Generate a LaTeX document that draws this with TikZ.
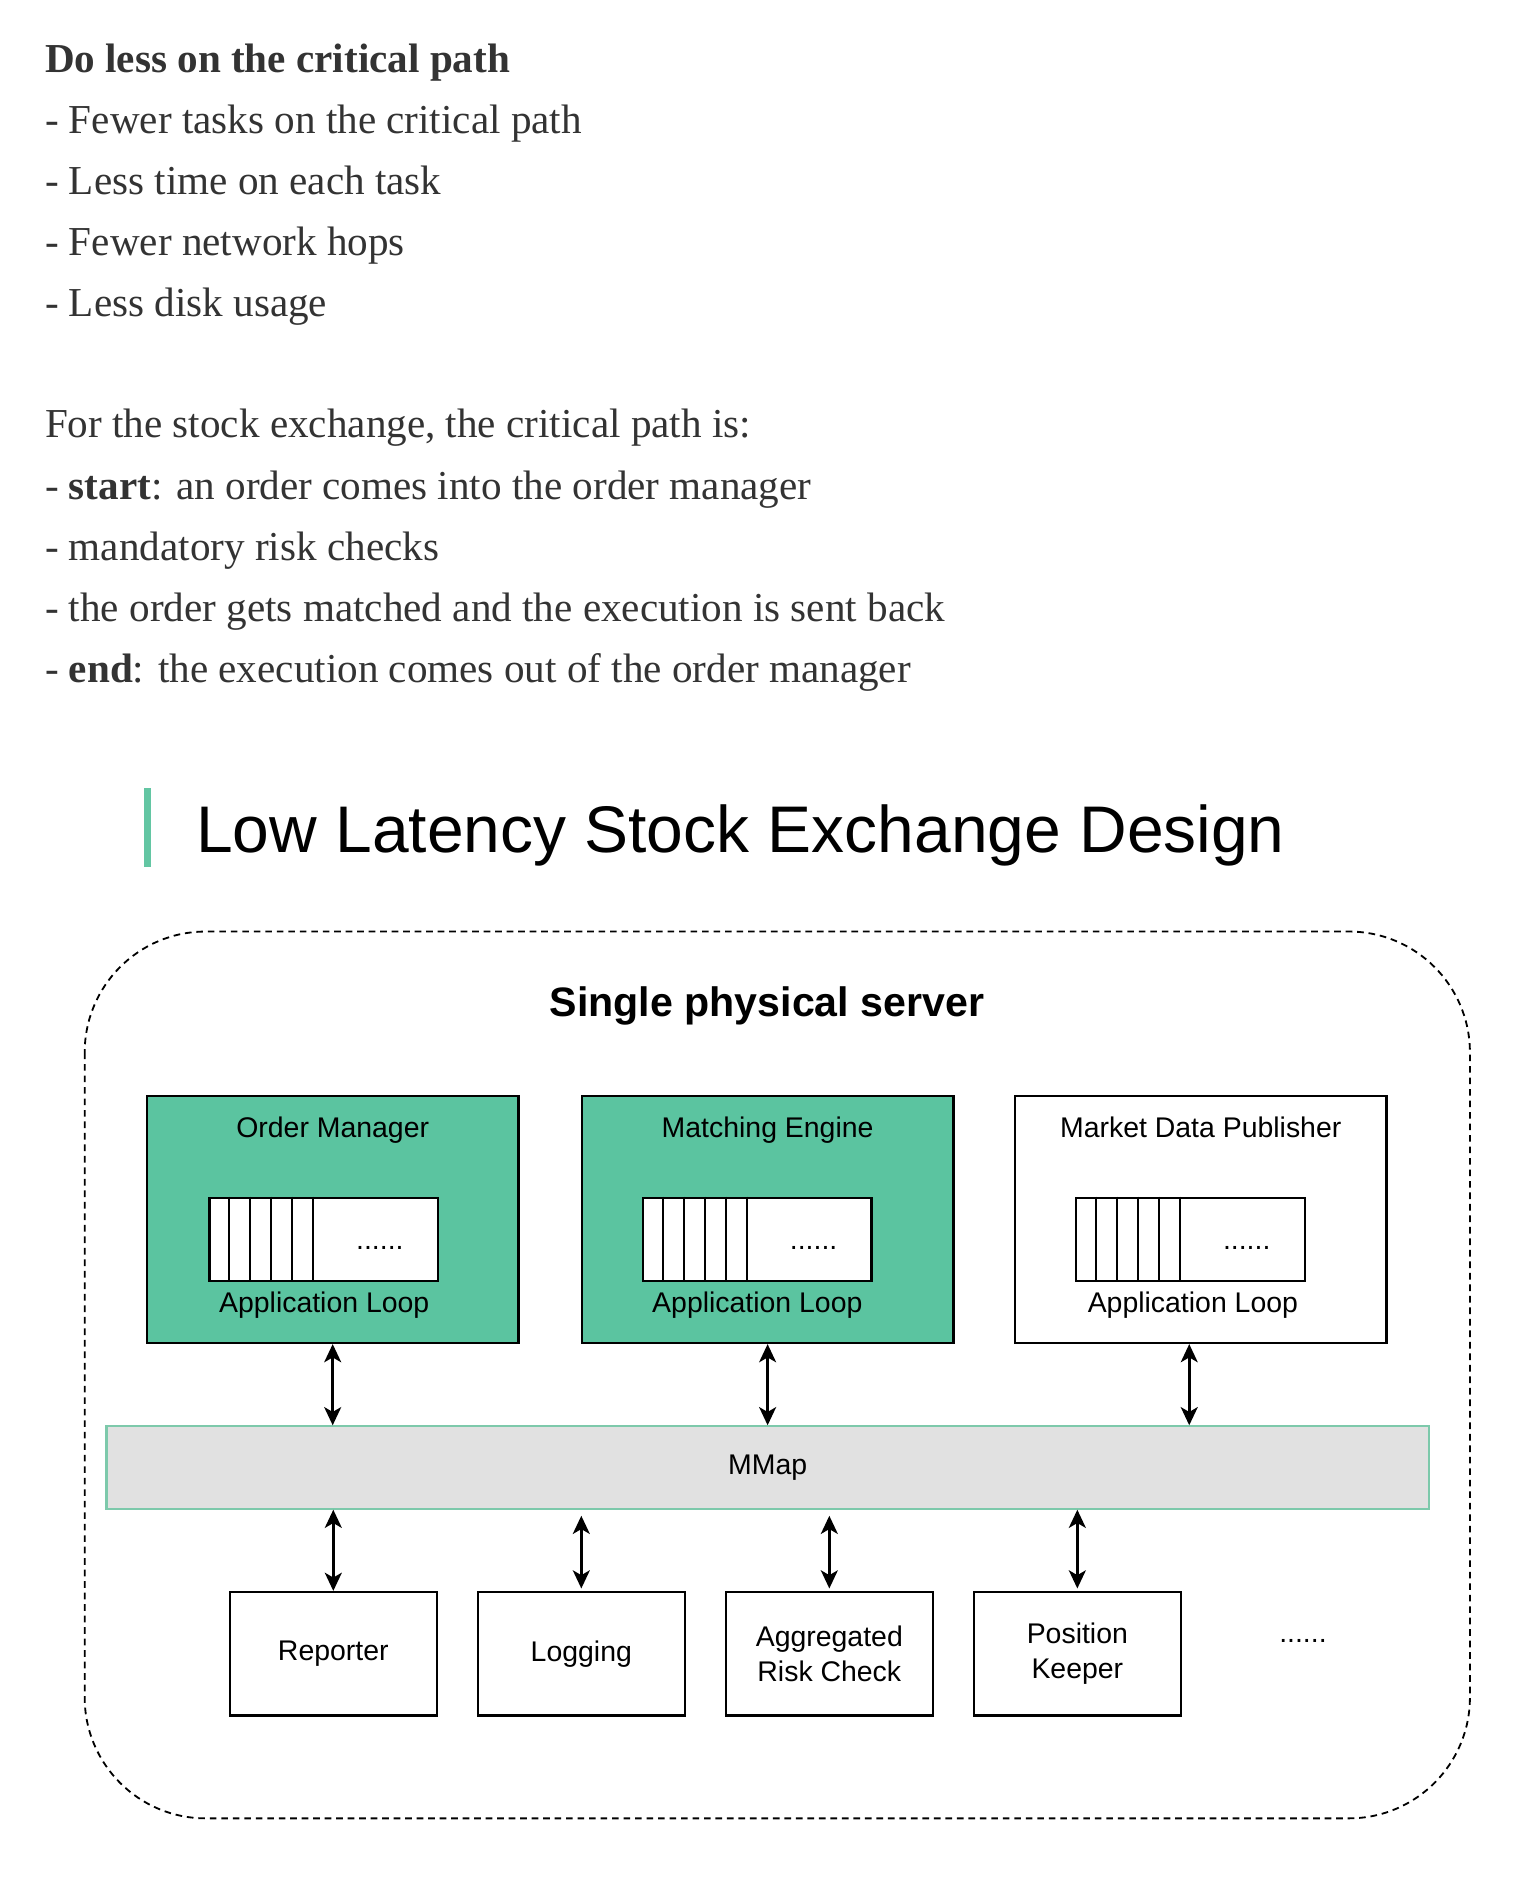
\documentclass[tikz,border=0pt]{standalone}
\usepackage{fontspec}
\setmainfont{Liberation Serif}
\newfontfamily\hv{Liberation Sans}
\usetikzlibrary{arrows.meta}
\definecolor{bodytxt}{HTML}{333333}
\definecolor{mgreen}{HTML}{5BC4A0}
\definecolor{barg}{HTML}{63C6A3}
\definecolor{mmapfill}{HTML}{E1E1E1}
\definecolor{mmapline}{HTML}{7DC9AB}
\begin{document}
\begin{tikzpicture}[x=1pt,y=-1pt,
  bodyline/.style={anchor=base west, inner sep=0pt, text=bodytxt, font=\fontsize{34}{40}\selectfont},
  compbox/.style={draw=black, line width=2pt, minimum width=307pt, minimum height=204pt, inner sep=0pt},
  greenbox/.style={compbox, fill=mgreen},
  whitebox/.style={compbox, fill=white},
  queuebox/.style={draw=black, line width=2pt, fill=white, minimum width=189pt, minimum height=69pt, inner sep=0pt},
  sanslabel/.style={anchor=base, inner sep=0pt, font=\hv\fontsize{23.5}{29}\selectfont},
  looplabel/.style={anchor=base, inner sep=0pt, font=\hv\fontsize{23.5}{29}\selectfont},
  smallbox/.style={draw=black, line width=2pt, fill=white, minimum width=171pt, minimum height=102pt, inner sep=0pt, align=center, font=\hv\fontsize{23.5}{29}\selectfont},
  biarrow/.style={line width=2.2pt, {Stealth[length=15pt,width=14pt,inset=4pt]}-{Stealth[length=15pt,width=14pt,inset=4pt]}},
]
\useasboundingbox[fill=white] (0,0) rectangle (1253.3,1567.2);

% ---- body text ----
\node[bodyline] (l1) at (37,60) {\bfseries Do less on the critical path};
\node[bodyline] (l2) at (37,110.5) {- Fewer tasks on the critical path};
\node[bodyline] (l3) at (37,161) {- Less time on each task};
\node[bodyline] (l4) at (37,211.5) {- Fewer network hops};
\node[bodyline] (l5) at (37,262) {- Less disk usage};
\node[bodyline] (l6) at (37,362) {For the stock exchange, the critical path is:};
\node[bodyline] (l7) at (37,412.5) {- \textbf{start}: an order comes into the order manager};
\node[bodyline] (l8) at (37,463) {- mandatory risk checks};
\node[bodyline] (l9) at (37,513.5) {- the order gets matched and the execution is sent back};
\node[bodyline] (l10) at (37,564) {- \textbf{end}: the execution comes out of the order manager};

% ---- heading ----
\fill[barg] (119,651) rectangle (124.5,717);
\node[anchor=base west, inner sep=0pt, font=\hv\fontsize{54.5}{60}\selectfont] (title) at (162,705) {Low Latency Stock Exchange Design};

% ---- server outline ----
\draw[line width=1.5pt, dash pattern=on 5.5pt off 4pt, rounded corners=100pt] (70,770) rectangle (1215,1503);
\node[anchor=base, inner sep=0pt, font=\hv\bfseries\fontsize{34}{40}\selectfont] (server) at (634,840) {Single physical server};

% ---- top components ----
\node[greenbox] (om) at (275,1008) {};
\node[greenbox] (me) at (634.5,1008) {};
\node[whitebox] (mdp) at (992.5,1008) {};

\node[sanslabel] (omt) at (275,940) {Order Manager};
\node[sanslabel] (met) at (634.5,940) {Matching Engine};
\node[sanslabel] (mdpt) at (992.5,940) {Market Data Publisher};

\foreach \nm/\cx in {omq/267.5, meq/626, mdpq/984}{
  \node[queuebox] (\nm) at (\cx,1024.5) {};
  \foreach \k in {1,...,5}{
    \draw[line width=1.8pt] ([xshift=17.4*\k pt]\nm.north west) -- ([xshift=17.4*\k pt]\nm.south west);
  }
  \node[anchor=base, inner sep=0pt, font=\hv\fontsize{23.5}{29}\selectfont] (\nm d) at ([xshift=142pt]\nm.west |- 0,1033) {......};
}
\node[looplabel] (oml) at (268,1085) {Application Loop};
\node[looplabel] (mel) at (626,1085) {Application Loop};
\node[looplabel] (mdpl) at (986,1085) {Application Loop};

% ---- MMap ----
\node[draw=mmapline, line width=1.8pt, fill=mmapfill, minimum width=1093pt, minimum height=68pt, inner sep=0pt, font=\hv\fontsize{23.5}{29}\selectfont] (mmap) at (634.5,1213) {MMap};

% ---- bottom components ----
\node[smallbox] (rep) at (275.5,1367) {Reporter};
\node[smallbox] (log) at (480.5,1367) {Logging};
\node[smallbox] (arc) at (685.5,1367) {Aggregated\\Risk Check};
\node[smallbox] (pk) at (890.5,1367) {Position\\Keeper};
\node[anchor=base, inner sep=0pt, font=\hv\fontsize{23.5}{29}\selectfont] (more) at (1077,1358) {......};

% ---- connectors ----
\draw[biarrow] (om.south) -- (om.south |- mmap.north);
\draw[biarrow] (me.south) -- (me.south |- mmap.north);
\coordinate (mdpa) at ([xshift=-9.5pt]mdp.south);
\draw[biarrow] (mdpa) -- (mdpa |- mmap.north);

\draw[biarrow] (rep.north) -- (rep.north |- mmap.south);
\draw[biarrow, shorten <=2pt, shorten >=5pt] (log.north) -- (log.north |- mmap.south);
\draw[biarrow, shorten <=2pt, shorten >=5pt] (arc.north) -- (arc.north |- mmap.south);
\draw[biarrow, shorten <=2pt] (pk.north) -- (pk.north |- mmap.south);
\end{tikzpicture}
\end{document}
